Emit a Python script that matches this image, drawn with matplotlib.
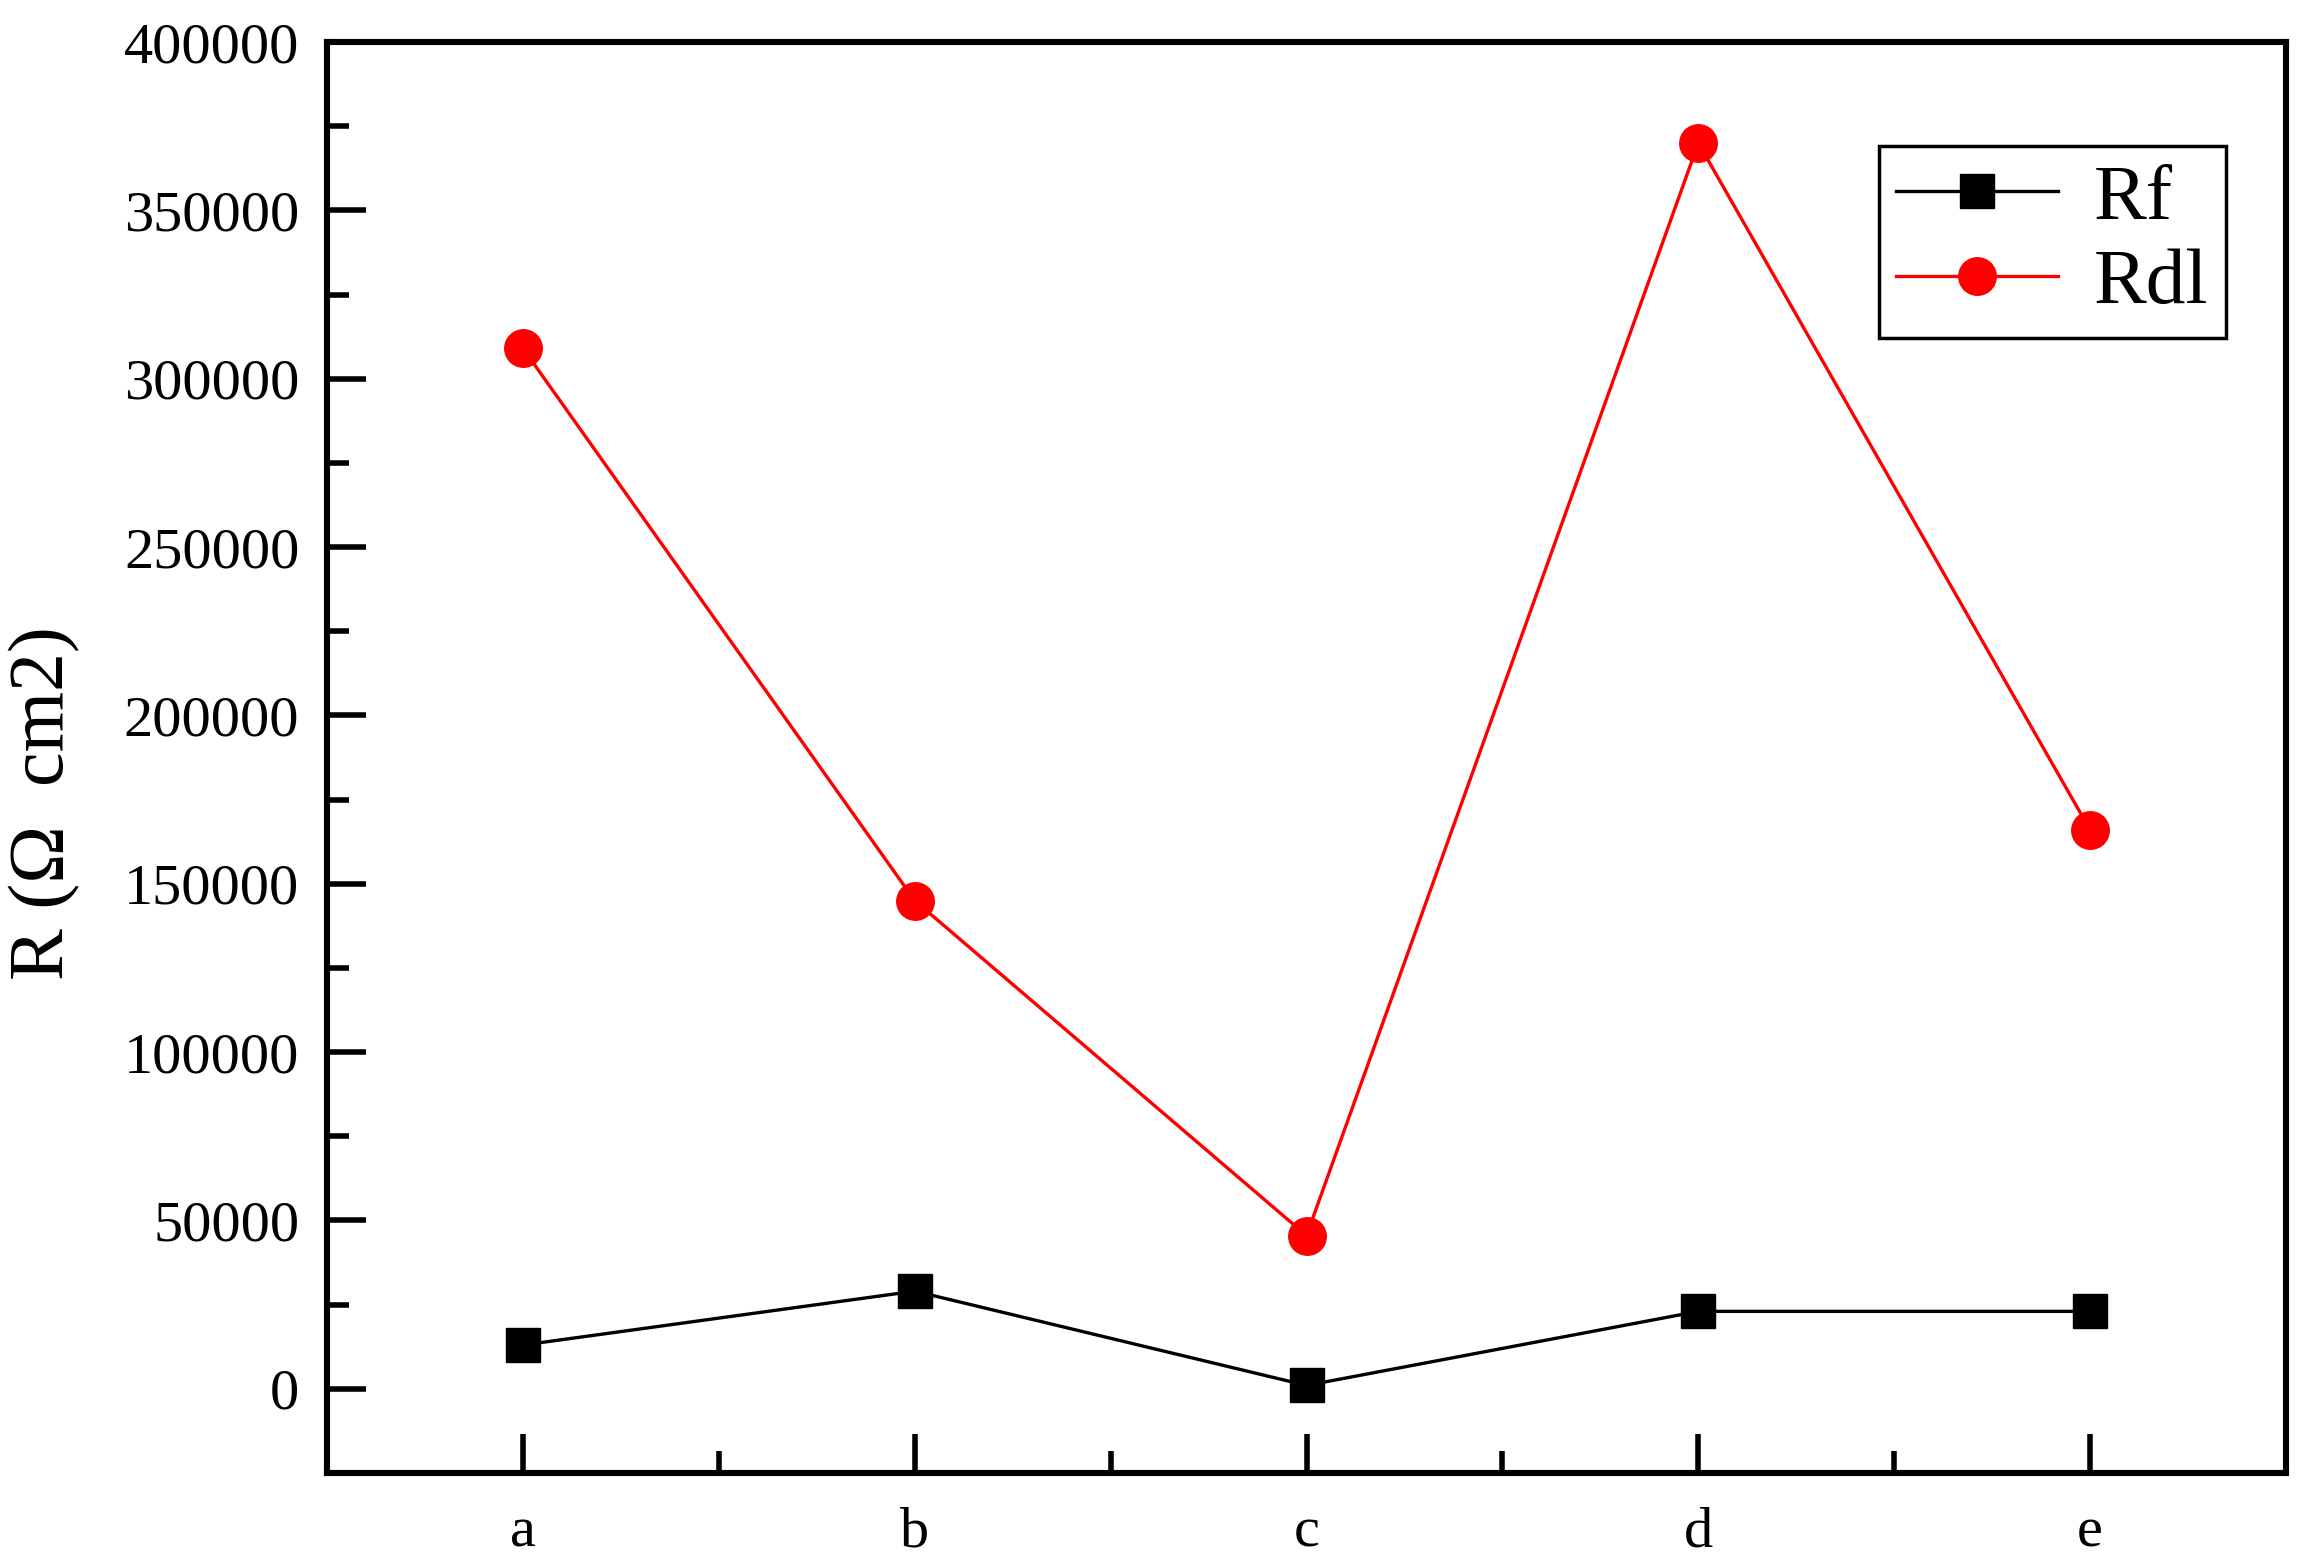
import matplotlib
matplotlib.use("Agg")
import matplotlib.pyplot as plt
from matplotlib.ticker import MultipleLocator

# -------------------------
# Data
# -------------------------
samples = ["a", "b", "c", "d", "e"]
rf_values = [13000, 29000, 1000, 23000, 23000]
rdl_values = [309000, 145000, 45500, 370000, 166000]

plt.rcParams['font.family'] = ['Liberation Serif', 'Noto Sans CJK SC']

# -------------------------
# Plot
# -------------------------
fig = plt.figure(figsize=(23.1, 15.64), dpi=100)
ax = fig.add_axes([0.1416, 0.0582, 0.848, 0.9149])

x = list(range(len(samples)))

ax.plot(x, rf_values, color='black', linewidth=2.4,
        marker='s', markersize=24, label='Rf')
ax.plot(x, rdl_values, color='red', linewidth=2.4,
        marker='o', markersize=27, label='Rdl')

ax.set_xlim(-0.5, 4.5)
ax.set_ylim(-25000, 400000)

ax.set_xticks(x)
ax.set_xticklabels(samples)
ax.xaxis.set_minor_locator(MultipleLocator(0.5))
ax.yaxis.set_major_locator(MultipleLocator(50000))
ax.yaxis.set_minor_locator(MultipleLocator(25000))

ax.tick_params(which='both', direction='in', width=4,
               top=False, right=False, labelsize=42)
ax.tick_params(axis='y', pad=20)
ax.tick_params(axis='x', pad=24)
ax.tick_params(which='major', length=28)
ax.tick_params(which='minor', length=16)

for spine in ax.spines.values():
    spine.set_linewidth(4.4)

ax.set_ylabel("R (Ω  cm2)", fontsize=56)
ax.yaxis.set_label_coords(-0.126, 0.468)

leg = ax.legend(loc='upper right', bbox_to_anchor=(0.9694, 0.9273),
                borderaxespad=0, fontsize=57, fancybox=False,
                edgecolor='black', framealpha=1, handlelength=2.05,
                handletextpad=0.45, borderpad=0.22, labelspacing=0.15)
leg.get_frame().set_linewidth(2.5)

fig.savefig("out.png", dpi=100)
